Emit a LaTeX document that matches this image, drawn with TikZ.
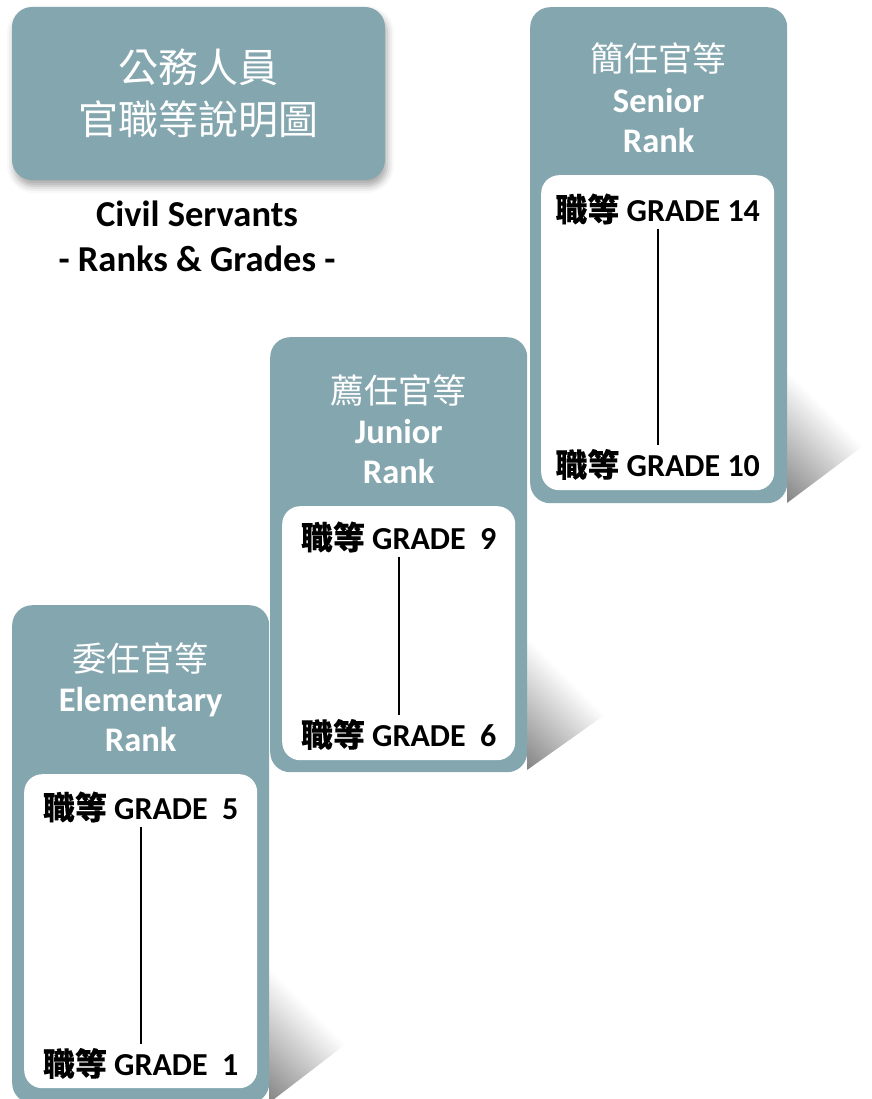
\documentclass[tikz,border=0pt]{standalone}
\usepackage{fontspec}
\setmainfont{Carlito}
\newfontfamily\cjk{Noto Sans CJK TC}
\newfontfamily\cjkbold[FakeBold=0.2]{Noto Sans CJK TC}
\usetikzlibrary{shadows.blur}
\definecolor{rankteal}{RGB}{132,166,174}
\pgfdeclareverticalshading{rankfade}{100bp}{color(0bp)=(black!48); color(15bp)=(black!48); color(50bp)=(white); color(100bp)=(white)}
\tikzset{
  rankbox/.style={fill=rankteal, rounded corners=20pt, anchor=north west, inner sep=0pt, minimum width=257pt},
  gradebox/.style={fill=white, rounded corners=18pt, anchor=north west, inner sep=0pt, minimum width=233pt},
  rankzh/.style={text=white, font=\cjk\fontsize{34}{40}\selectfont},
  ranken/.style={text=white, align=center, font=\fontsize{34.5}{40}\selectfont\bfseries},
  grade/.style={font=\fontsize{32}{36}\selectfont\bfseries, inner sep=4pt},
  gradeline/.style={line width=2.2pt},
  fade/.style={shading=rankfade, shading angle=-45},
}
\newcommand{\gradetext}[1]{{\cjkbold 職等} GRADE #1}

\begin{document}
\begin{tikzpicture}[x=1pt, y=-1pt]
  \useasboundingbox (0,0) rectangle (871,1099);
  % perspective shadows
  \begin{scope}
    \clip (787,370) -- (871,440) -- (787,503) -- cycle;
    \shade[fade] (787,370) rectangle (920,503);
  \end{scope}
  \begin{scope}
    \clip (527,637) -- (630,697) -- (527,770) -- cycle;
    \shade[fade] (527,637) rectangle (660,770);
  \end{scope}
  \begin{scope}
    \clip (269,968) -- (368,1027) -- (269,1103) -- cycle;
    \shade[fade] (269,968) rectangle (404,1103);
  \end{scope}
  % title
  \node[fill=rankteal, rounded corners=20pt, minimum width=373pt, minimum height=173pt,
        blur shadow={shadow xshift=2pt, shadow yshift=-6pt, shadow blur radius=7pt, shadow opacity=35},
        text=white, align=center, font=\cjk\fontsize{40}{52}\selectfont] (title) at (198.5,93.5) {公務人員\\官職等說明圖};
  \node[align=center, font=\fontsize{36.5}{45}\selectfont\bfseries] (subtitle) at (197,236.5) {Civil Servants\\- Ranks \& Grades -};
  % senior rank
  \node[rankbox, minimum height=496pt] (senior) at (530,7) {};
  \node[gradebox, minimum height=315pt] (sgrades) at (541,175) {};
  \node[rankzh] (senior-zh) at ([yshift=-51pt]senior.north) {簡任官等};
  \node[ranken] (senior-en) at ([yshift=-114pt]senior.north) {Senior\\Rank};
  \node[grade] (g14) at ([yshift=-34pt]sgrades.north) {\gradetext{14}};
  \node[grade] (g10) at ([yshift=26pt]sgrades.south) {\gradetext{10}};
  \draw[gradeline] (g14) -- (g10);
  % junior rank
  \node[rankbox, minimum height=435pt] (junior) at (270,337) {};
  \node[gradebox, minimum height=254pt] (jgrades) at (282,506) {};
  \node[rankzh] (junior-zh) at ([yshift=-53pt]junior.north) {薦任官等};
  \node[ranken] (junior-en) at ([yshift=-115pt]junior.north) {Junior\\Rank};
  \node[grade] (g9) at ([yshift=-31pt]jgrades.north) {\gradetext{~9}};
  \node[grade] (g6) at ([yshift=26pt]jgrades.south) {\gradetext{~6}};
  \draw[gradeline] (g9) -- (g6);
  % elementary rank
  \node[rankbox, minimum height=498pt] (elem) at (12,605) {};
  \node[gradebox, minimum height=314pt] (egrades) at (24,774) {};
  \node[rankzh] (elem-zh) at ([yshift=-53pt]elem.north) {委任官等};
  \node[ranken] (elem-en) at ([yshift=-115pt]elem.north) {Elementary\\Rank};
  \node[grade] (g5) at ([yshift=-33pt]egrades.north) {\gradetext{~5}};
  \node[grade] (g1) at ([yshift=25pt]egrades.south) {\gradetext{~1}};
  \draw[gradeline] (g5) -- (g1);
\end{tikzpicture}
\end{document}
